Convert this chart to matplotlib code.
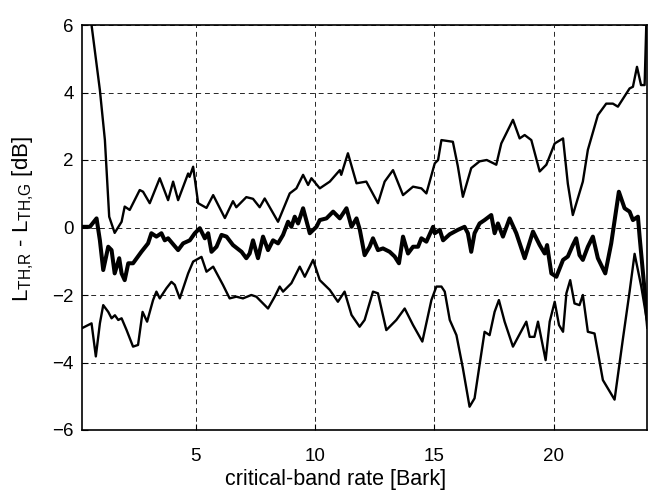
import matplotlib
matplotlib.use("Agg")
import matplotlib.pyplot as plt

plt.rcParams['font.family'] = ['Liberation Sans', 'DejaVu Sans']
plt.rcParams['mathtext.fontset'] = 'custom'
plt.rcParams['mathtext.rm'] = 'Liberation Sans'
plt.rcParams['mathtext.it'] = 'Liberation Sans'

upper_x = [0.25, 0.63, 0.98, 1.19, 1.37, 1.6, 1.89, 2.02, 2.23, 2.65, 2.79, 3.07, 3.49, 3.84, 4.05, 4.26,
           4.68, 4.74, 4.89, 5.1, 5.45, 5.73, 6.22, 6.56, 6.7, 7.12, 7.4, 7.68, 7.89, 8.45, 8.94, 9.22,
           9.5, 9.71, 9.85, 10.2, 10.62, 11.04, 11.1, 11.38, 11.74, 12.15, 12.64, 12.92, 13.27, 13.69,
           14.11, 14.46, 14.67, 15.02, 15.16, 15.3, 15.78, 15.99, 16.2, 16.55, 16.9, 17.2, 17.46, 17.6,
           17.81, 18.3, 18.58, 18.79, 19.07, 19.42, 19.7, 20.05, 20.4, 20.6, 20.81, 21.23, 21.44, 21.86,
           22.21, 22.49, 22.7, 23.19, 23.33, 23.5, 23.67, 23.82, 23.89, 23.95]
upper_y = [8.0, 6.0, 4.07, 2.59, 0.32, -0.16, 0.17, 0.62, 0.52, 1.11, 1.06, 0.72, 1.46, 0.81, 1.36, 0.81,
           1.6, 1.5, 1.8, 0.72, 0.58, 0.96, 0.28, 0.78, 0.6, 0.9, 0.85, 0.6, 0.86, 0.17, 1.01, 1.16,
           1.56, 1.26, 1.46, 1.16, 1.36, 1.7, 1.56, 2.2, 1.31, 1.36, 0.72, 1.36, 1.7, 0.96,
           1.21, 1.16, 1.01, 1.9, 2.0, 2.59, 2.54, 1.81, 0.91, 1.76, 1.96, 2.0, 1.91, 1.86,
           2.49, 3.19, 2.64, 2.74, 2.59, 1.66, 1.86, 2.49, 2.64, 1.3, 0.37, 1.36, 2.3, 3.33,
           3.67, 3.67, 3.58, 4.12, 4.17, 4.76, 4.22, 4.22, 6.0, 7.5]

middle_x = [0.21, 0.56, 0.84, 0.98, 1.12, 1.33, 1.47, 1.6, 1.79, 1.89, 2.02, 2.17, 2.37, 2.72, 3.0, 3.14,
            3.35, 3.56, 3.7, 3.84, 4.26, 4.47, 4.75, 4.96, 5.17, 5.38, 5.52, 5.66, 5.87, 6.08, 6.29, 6.56,
            6.92, 7.12, 7.26, 7.4, 7.61, 7.82, 8.03, 8.24, 8.45, 8.66, 8.87, 9.01, 9.15, 9.29, 9.5, 9.78,
            10.06, 10.2, 10.48, 10.76, 11.04, 11.32, 11.53, 11.74, 11.88, 12.08, 12.29, 12.43, 12.64,
            12.85, 13.13, 13.34, 13.52, 13.69, 13.9, 14.11, 14.32, 14.46, 14.67, 14.95, 15.02, 15.23,
            15.37, 15.65, 15.99, 16.27, 16.41, 16.55, 16.69, 16.9, 17.11, 17.39, 17.53, 17.67, 17.88,
            18.16, 18.44, 18.79, 19.14, 19.42, 19.63, 19.73, 19.91, 20.12, 20.4, 20.6, 20.81, 20.95,
            21.09, 21.23, 21.44, 21.65, 21.86, 22.17, 22.42, 22.74, 22.98, 23.19, 23.33, 23.54, 23.61, 23.96]
middle_y = [0.02, 0.02, 0.27, -0.38, -1.26, -0.57, -0.67, -1.36, -0.91, -1.36, -1.56, -1.06, -1.06, -0.72, -0.47, -0.17,
            -0.27, -0.17, -0.38, -0.32, -0.67, -0.47, -0.38, -0.17, -0.02, -0.32, -0.17, -0.72, -0.57, -0.22, -0.27, -0.52,
            -0.72, -0.91, -0.77, -0.38, -0.91, -0.27, -0.67, -0.38, -0.47, -0.22, 0.17, 0.02, 0.32, 0.12, 0.57, -0.17,
            0.02, 0.22, 0.27, 0.47, 0.27, 0.57, 0.02, 0.27, -0.07, -0.82, -0.57, -0.32, -0.67,
            -0.62, -0.72, -0.86, -1.06, -0.27, -0.77, -0.57, -0.57, -0.32, -0.42, 0.02, -0.17, -0.07,
            -0.38, -0.2, -0.07, 0.02, -0.17, -0.72, -0.17, 0.12, 0.22, 0.37, -0.17, 0.12, -0.27,
            0.27, -0.17, -0.91, -0.12, -0.52, -0.77, -0.52, -1.36, -1.46, -0.96, -0.86, -0.52, -0.32,
            -0.82, -0.96, -0.57, -0.27, -0.91, -1.36, -0.47, 1.06, 0.57, 0.47, 0.22, 0.32, -0.27, -2.94]

lower_x = [0.21, 0.63, 0.81, 0.98, 1.12, 1.33, 1.47, 1.61, 1.75, 1.89, 2.1, 2.37, 2.58, 2.77, 2.96, 3.21,
           3.35, 3.49, 3.77, 3.98, 4.12, 4.33, 4.68, 4.89, 5.24, 5.45, 5.73, 6.14, 6.42, 6.7, 6.98, 7.33,
           7.54, 8.03, 8.31, 8.52, 8.66, 9.01, 9.36, 9.57, 9.92, 10.2, 10.62, 10.96, 11.24, 11.53, 11.87,
           12.08, 12.43, 12.64, 12.99, 13.41, 13.76, 14.11, 14.5, 14.88, 15.09, 15.3, 15.44, 15.65, 15.93,
           16.2, 16.48, 16.69, 16.9, 17.11, 17.32, 17.53, 17.71, 17.95, 18.3, 18.86, 19.0, 19.2, 19.35,
           19.49, 19.67, 19.84, 20.05, 20.23, 20.4, 20.54, 20.7, 20.88, 21.09, 21.23, 21.44, 21.72, 22.07,
           22.56, 22.91, 23.19, 23.4, 23.68, 23.89, 23.96]
lower_y = [-2.99, -2.84, -3.82, -2.84, -2.3, -2.5, -2.69, -2.6, -2.74, -2.69, -3.04, -3.53, -3.48, -2.5, -2.79, -2.15,
           -1.9, -2.1, -1.8, -1.61, -1.7, -2.1, -1.36, -1.01, -0.87, -1.31, -1.16, -1.7, -2.1, -2.05, -2.1, -2.0,
           -2.05, -2.4, -2.05, -1.75, -1.9, -1.65, -1.16, -1.46, -0.96, -1.56, -1.85, -2.2, -1.9, -2.59, -2.94,
           -2.74, -1.9, -1.95, -3.04, -2.74, -2.4, -2.89, -3.38, -2.15, -1.75, -1.75, -1.9, -2.74, -3.19,
           -4.17, -5.31, -5.06, -4.07, -3.09, -3.19, -2.5, -2.15, -2.79, -3.53, -2.79, -3.24, -3.24, -2.79,
           -3.29, -3.93, -2.79, -2.2, -2.89, -3.09, -1.95, -1.56, -2.25, -2.3, -2.0, -3.09, -3.14, -4.52,
           -5.1, -3.3, -1.9, -0.78, -1.75, -2.64, -2.9]

x_ticks = [5, 10, 15, 20]
y_ticks = [-6, -4, -2, 0, 2, 4, 6]

fig = plt.figure(figsize=(6.48, 4.91), dpi=100)
ax = fig.add_axes([82/648, 61/491, 565/648, 405/491])

ax.plot(upper_x, upper_y, color='black', lw=1.7, solid_joinstyle='round')
ax.plot(middle_x, middle_y, color='black', lw=2.9, solid_joinstyle='round')
ax.plot(lower_x, lower_y, color='black', lw=1.7, solid_joinstyle='round')

ax.set_xlim(0.23, 23.92)
ax.set_ylim(-6, 6)
ax.set_xticks(x_ticks)
ax.set_yticks(y_ticks)
ax.grid(True, color='black', linestyle=(0, (5, 4)), linewidth=0.7, alpha=0.85)
ax.tick_params(direction='in', labelsize=13.5, length=4)
ax.tick_params(axis='x', pad=13)
ax.tick_params(axis='y', pad=6)
for s in ax.spines.values():
    s.set_linewidth(1.2)

ax.set_xlabel('critical-band rate [Bark]', fontsize=15.5)
ax.set_ylabel(r'$\mathrm{L_{TH{,}R}}$ - $\mathrm{L_{TH{,}G}}$ [dB]', fontsize=16)
ax.xaxis.set_label_coords(0.448, -0.097)
ax.yaxis.set_label_coords(-0.082, 0.521)

fig.savefig('out.png', dpi=100)
